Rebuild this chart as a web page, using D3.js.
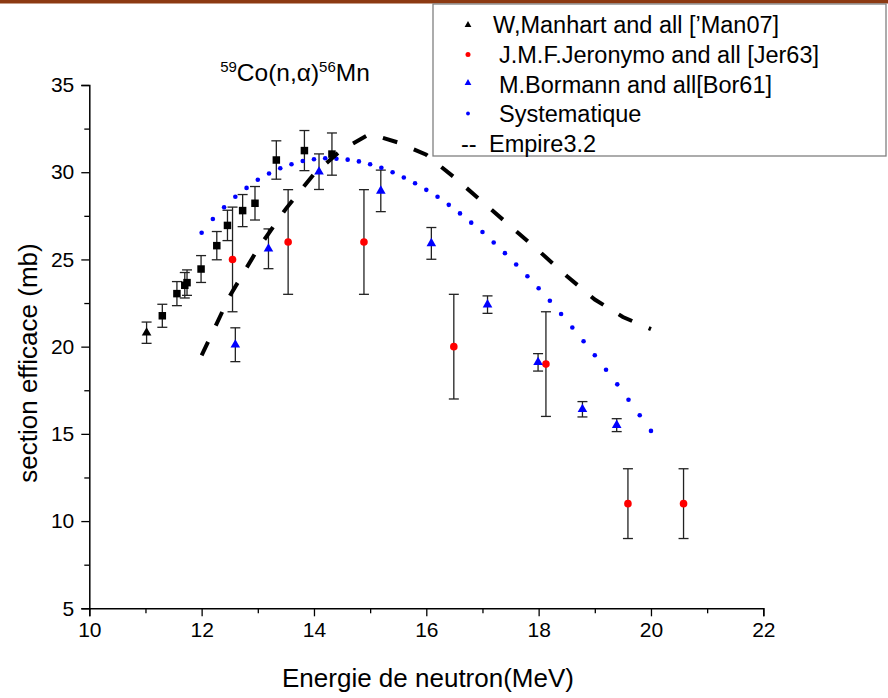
<!DOCTYPE html>
<html><head><meta charset="utf-8">
<script src="https://cdn.jsdelivr.net/npm/d3@7"></script>
<style>
body{margin:0;background:#fff;}
svg{display:block;font-family:"Liberation Sans",Arial,sans-serif;}
</style>
</head><body>
<svg id="chart" width="888" height="698"></svg>
<script>
// ---- data ----
const manhartTriE = [11.02];
const manhartTriS = [20.8];
const manhartTriErr = [0.61];

const manhartSqE = [11.30, 11.56, 11.70, 11.74, 11.99, 12.27, 12.46, 12.73, 12.95, 13.33, 13.83, 14.32];
const manhartSqS = [21.77, 23.04, 23.52, 23.67, 24.45, 25.79, 26.95, 27.80, 28.22, 30.70, 31.24, 31.04];
const manhartSqErr = [0.66, 0.69, 0.73, 0.73, 0.77, 0.81, 0.87, 0.92, 0.96, 1.10, 1.15, 1.21];

const jerE = [12.55, 13.54, 14.89, 16.49, 18.13, 19.59, 20.58];
const jerS = [25, 26, 26, 20, 19, 11, 11];
const jerErr = [3, 3, 3, 3, 3, 2, 2];

const borE = [12.60, 13.19, 14.09, 15.19, 16.09, 17.09, 17.99, 18.78, 19.39];
const borS = [20.11, 25.61, 30.03, 28.93, 25.92, 22.41, 19.10, 16.41, 15.50];
const borErr = [0.97, 1.14, 1.02, 1.19, 0.91, 0.50, 0.50, 0.44, 0.37];

const sysE = [12.0, 12.2, 12.4, 12.6, 12.8, 13.0, 13.2, 13.4, 13.6, 13.8, 14.0, 14.2, 14.4, 14.6, 14.8,
              15.0, 15.2, 15.4, 15.6, 15.8, 16.0, 16.2, 16.4, 16.6, 16.8, 17.0, 17.2, 17.4, 17.6, 17.8,
              18.0, 18.2, 18.4, 18.6, 18.8, 19.0, 19.2, 19.4, 19.6, 19.8, 20.0];
const sysS = [26.53, 27.32, 27.99, 28.59, 29.10, 29.57, 29.93, 30.23, 30.46, 30.64, 30.74, 30.80, 30.77, 30.72, 30.62,
              30.46, 30.26, 30.00, 29.70, 29.37, 28.99, 28.59, 28.13, 27.64, 27.11, 26.57, 25.97, 25.36, 24.71, 24.04,
              23.35, 22.63, 21.87, 21.10, 20.31, 19.51, 18.68, 17.84, 16.96, 16.07, 15.17];

const empE = [12.0, 12.5, 13.0, 13.5, 14.0, 14.5, 15.0, 15.5, 16.0, 16.5, 17.0, 17.5, 18.0, 18.5, 19.0, 19.5, 20.0];
const empS = [19.5, 22.9, 25.6, 27.9, 29.9, 31.3, 32.2, 31.7, 31.0, 29.7, 28.3, 26.9, 25.5, 24.05, 22.7, 21.7, 21.0];

const xTicks = [10, 12, 14, 16, 18, 20, 22];
const xMinor = [11, 13, 15, 17, 19, 21];
const yTicks = [5, 10, 15, 20, 25, 30, 35];
const yMinor = [7.5, 12.5, 17.5, 22.5, 27.5, 32.5];

const legendLabels = ["W,Manhart and all [\u2019Man07]", "J.M.F.Jeronymo and all [Jer63]", "M.Bormann and all[Bor61]", "Systematique", "Empire3.2"];

// ---- scales ----
const svg = d3.select("#chart");
const x = d3.scaleLinear().domain([10, 22]).range([89.3, 763.3]);
const y = d3.scaleLinear().domain([5, 35]).range([608.3, 85]);

// top bar
svg.append("rect").attr("x", 0).attr("y", 0).attr("width", 888).attr("height", 3.5).attr("fill", "#8c3a12");

// axes
svg.append("g").attr("transform", `translate(0,${y(5)})`)
  .call(d3.axisBottom(x).tickValues(xTicks).tickSize(8).tickPadding(6).tickFormat(d3.format("d")));
svg.append("g").attr("transform", `translate(0,${y(5)})`)
  .call(d3.axisBottom(x).tickValues(xMinor).tickSize(5).tickFormat(""))
  .call(g => g.select(".domain").remove());
svg.append("g").attr("transform", `translate(${x(10)},0)`)
  .call(d3.axisLeft(y).tickValues(yTicks).tickSize(8).tickPadding(7).tickFormat(d3.format("d")));
svg.append("g").attr("transform", `translate(${x(10)},0)`)
  .call(d3.axisLeft(y).tickValues(yMinor).tickSize(5).tickFormat(""))
  .call(g => g.select(".domain").remove());
svg.selectAll(".domain").attr("stroke", "#000").attr("stroke-width", 1.5);
svg.selectAll(".tick line").attr("stroke", "#000").attr("stroke-width", 1.3);
svg.selectAll(".tick text").attr("font-size", 21).attr("fill", "#000")
  .attr("font-family", "'Liberation Sans',Arial,sans-serif");

// axis titles
svg.append("text").attr("x", 428).attr("y", 687).attr("text-anchor", "middle")
  .attr("font-size", 26).text("Energie de neutron(MeV)");
svg.append("text").attr("transform", "translate(37,363) rotate(-90)").attr("text-anchor", "middle")
  .attr("font-size", 26).text("section efficace (mb)");

// chart title
const title = svg.append("text").attr("x", 295).attr("y", 81).attr("text-anchor", "middle").attr("font-size", 24.5);
title.append("tspan").attr("font-size", 15).attr("dy", -9).text("59");
title.append("tspan").attr("dy", 9).text("Co(n,\u03b1)");
title.append("tspan").attr("font-size", 15).attr("dy", -9).text("56");
title.append("tspan").attr("dy", 9).text("Mn");

// error bars helper
function errorBars(E, S, Err) {
  const g = svg.append("g").attr("stroke", "#222").attr("stroke-width", 1.3);
  E.forEach((e, i) => {
    const cx = x(e), y1 = y(S[i] + Err[i]), y2 = y(S[i] - Err[i]);
    g.append("line").attr("x1", cx).attr("x2", cx).attr("y1", y1).attr("y2", y2);
    g.append("line").attr("x1", cx - 5).attr("x2", cx + 5).attr("y1", y1).attr("y2", y1);
    g.append("line").attr("x1", cx - 5).attr("x2", cx + 5).attr("y1", y2).attr("y2", y2);
  });
}
errorBars(manhartTriE, manhartTriS, manhartTriErr);
errorBars(manhartSqE, manhartSqS, manhartSqErr);
errorBars(jerE, jerS, jerErr);
errorBars(borE, borS, borErr);

const tri = d3.symbol().type(d3.symbolTriangle).size(40);

// systematique dots
svg.append("g").selectAll("circle").data(sysE).join("circle")
  .attr("cx", d => x(d)).attr("cy", (d, i) => y(sysS[i])).attr("r", 2.3).attr("fill", "#0000ff");

// Manhart
svg.append("g").selectAll("path").data(manhartTriE).join("path")
  .attr("d", tri).attr("transform", (d, i) => `translate(${x(d)},${y(manhartTriS[i])})`).attr("fill", "#000");
svg.append("g").selectAll("rect").data(manhartSqE).join("rect")
  .attr("x", d => x(d) - 3.75).attr("y", (d, i) => y(manhartSqS[i]) - 3.75)
  .attr("width", 7.5).attr("height", 7.5).attr("fill", "#000");

// Jeronymo
svg.append("g").selectAll("circle").data(jerE).join("circle")
  .attr("cx", d => x(d)).attr("cy", (d, i) => y(jerS[i])).attr("r", 3.8).attr("fill", "#ff0000");

// Bormann
svg.append("g").selectAll("path").data(borE).join("path")
  .attr("d", tri).attr("transform", (d, i) => `translate(${x(d)},${y(borS[i])})`).attr("fill", "#0000ff");

// Empire dashed line
const line = d3.line().x(d => x(d)).y((d, i) => y(empS[i]));
svg.append("path").datum(empE).attr("d", line).attr("fill", "none")
  .attr("stroke", "#000").attr("stroke-width", 4).attr("stroke-dasharray", "15,18");

// legend
const lg = svg.append("g");
lg.append("rect").attr("x", 433).attr("y", 4).attr("width", 453).attr("height", 152)
  .attr("fill", "#fff").attr("stroke", "#808080").attr("stroke-width", 1.3);
const rowsY = [33, 63, 92.5, 122, 151.5];
const legTri = d3.symbol().type(d3.symbolTriangle).size(20);
lg.append("path").attr("d", legTri).attr("transform", "translate(468,25)").attr("fill", "#000");
lg.append("circle").attr("cx", 468).attr("cy", 54.5).attr("r", 2.5).attr("fill", "#ff0000");
lg.append("path").attr("d", legTri).attr("transform", "translate(468,83)").attr("fill", "#0000ff");
lg.append("circle").attr("cx", 468).attr("cy", 113.5).attr("r", 1.9).attr("fill", "#0000ff");
lg.append("text").attr("x", 461).attr("y", rowsY[4]).attr("font-size", 23.5).text("--");
const textX = [493, 499, 499, 499, 489];
legendLabels.forEach((t, i) => {
  lg.append("text").attr("x", textX[i]).attr("y", rowsY[i]).attr("font-size", 23.5).text(t);
});
</script>
</body></html>
